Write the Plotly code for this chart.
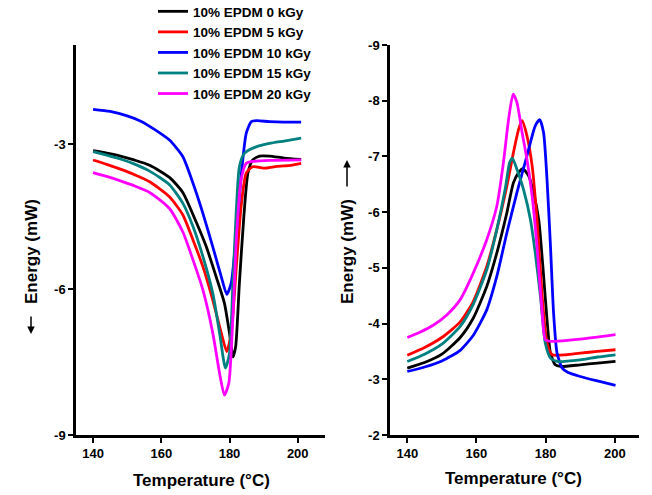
import plotly.graph_objects as go

FONT = "Liberation Sans, Arial, sans-serif"

names = ["10% EPDM 0 kGy", "10% EPDM 5 kGy", "10% EPDM 10 kGy",
         "10% EPDM 15 kGy", "10% EPDM 20 kGy"]
colors = ["#000000", "#FF0000", "#0000FF", "#008080", "#FF00FF"]

# ---- Left panel (melting) ----
t_l_0 = [140, 144, 148, 152, 156.6, 162.4, 166.3, 170.3, 173.2, 176.1, 178.5, 180, 181, 181.8,
         182.9, 184.2, 185.4, 186.8, 188.8, 191.7, 196, 201]
e_l_0 = [-3.14, -3.19, -3.25, -3.33, -3.44, -3.69, -4.0, -4.62, -5.12, -5.74, -6.28, -6.9, -7.39,
         -7.18, -5.87, -4.5, -3.6, -3.33, -3.25, -3.25, -3.29, -3.32]

t_l_5 = [140, 144, 148, 152, 156.6, 162.4, 166.3, 169.3, 172.2, 175.1, 177.6, 179.2, 180.5, 182,
         183.4, 184.9, 186.8, 190, 194, 198, 201]
e_l_5 = [-3.33, -3.42, -3.52, -3.63, -3.78, -4.09, -4.46, -4.98, -5.53, -6.22, -6.9, -7.28, -6.9,
         -5.53, -4.29, -3.6, -3.47, -3.5, -3.46, -3.44, -3.4]

t_l_10 = [140, 145, 150, 154, 158, 162.4, 166.3, 169.3, 172.2, 175.1, 177.6, 179.2, 180.5, 182,
          183.4, 184.9, 186.4, 188, 191.7, 196, 201]
e_l_10 = [-2.285, -2.33, -2.42, -2.53, -2.7, -2.92, -3.26, -3.81, -4.43, -5.12, -5.74, -6.1, -5.87,
          -4.84, -3.67, -2.78, -2.54, -2.52, -2.54, -2.55, -2.55]

t_l_15 = [140, 144, 148, 152, 156.6, 162.4, 166.3, 169.3, 172.2, 175.1, 177.1, 178.8, 180, 181,
          182, 182.9, 184.4, 187.8, 191.7, 196, 201]
e_l_15 = [-3.16, -3.23, -3.31, -3.41, -3.56, -3.84, -4.22, -4.7, -5.32, -6.08, -6.9, -7.62, -7.32,
          -5.87, -4.36, -3.47, -3.19, -3.06, -2.99, -2.94, -2.88]

t_l_20 = [140, 144, 148, 152, 156.6, 162.4, 166.3, 169.3, 172.2, 175.1, 177.1, 178.5, 179.8, 181,
          182.1, 183.4, 184.9, 186.8, 192, 201]
e_l_20 = [-3.59, -3.67, -3.76, -3.86, -4.0, -4.33, -4.81, -5.39, -6.01, -6.9, -7.73, -8.18, -7.93,
          -6.56, -4.84, -3.74, -3.4, -3.36, -3.34, -3.33]

# ---- Right panel (crystallization) ----
t_r_0 = [140, 145, 150, 155.3, 159.1, 163, 165.9, 168.8, 170.7, 172.2, 173.4, 175.1, 176.5, 178,
         179.2, 180.4, 181.4, 182.8, 184.3, 190, 195, 200.2]
e_r_0 = [-3.2, -3.3, -3.45, -3.75, -4.1, -4.67, -5.27, -5.99, -6.53, -6.71, -6.78, -6.65, -6.35,
         -5.87, -5.03, -4.07, -3.47, -3.26, -3.23, -3.26, -3.29, -3.32]

t_r_5 = [140, 145, 150, 155.3, 159.1, 163, 165.9, 168.8, 170.7, 172.2, 173.2, 174.6, 176.1, 177.5,
         179, 180.4, 181.9, 186, 190, 195, 200.2]
e_r_5 = [-3.43, -3.57, -3.75, -4.03, -4.4, -5.03, -5.69, -6.47, -7.07, -7.49, -7.64, -7.37, -6.83,
         -5.87, -4.49, -3.65, -3.44, -3.44, -3.47, -3.5, -3.53]

t_r_10 = [140, 145, 150, 155.3, 159.1, 163, 165.9, 168.8, 171.7, 174.6, 177, 178.3, 179.4, 180.4,
          181.4, 182.3, 183.3, 184.8, 186.5, 190, 195, 200.2]
e_r_10 = [-3.14, -3.22, -3.33, -3.52, -3.79, -4.25, -4.85, -5.63, -6.35, -7.01, -7.55, -7.66, -7.43,
          -6.59, -5.39, -4.19, -3.47, -3.2, -3.12, -3.05, -2.97, -2.89]

t_r_15 = [140, 145, 150, 155.3, 159.1, 163, 165.9, 168.3, 169.6, 170.4, 171.7, 173.6, 175.6, 177,
          178.5, 179.9, 181.4, 183.3, 190, 195, 200.2]
e_r_15 = [-3.32, -3.45, -3.63, -3.95, -4.35, -4.97, -5.69, -6.41, -6.89, -6.97, -6.77, -6.41, -5.87,
          -5.27, -4.49, -3.65, -3.38, -3.32, -3.35, -3.4, -3.44]

t_r_20 = [140, 143.5, 147.5, 151.5, 155.3, 159.1, 163, 165.9, 167.8, 169.3, 170.6, 171.7, 173.2,
          174.6, 176.1, 177.5, 179, 179.9, 181.4, 190, 200.2]
e_r_20 = [-3.75, -3.84, -3.97, -4.16, -4.43, -4.91, -5.51, -6.11, -6.89, -7.67, -8.12, -7.97, -7.43,
          -6.95, -6.29, -5.39, -4.19, -3.71, -3.68, -3.72, -3.8]

x_ticks = [140, 160, 180, 200]
y_ticks_left = [-9, -6, -3]
y_ticks_right = [-9, -8, -7, -6, -5, -4, -3, -2]

left = [(t_l_0, e_l_0), (t_l_5, e_l_5), (t_l_10, e_l_10), (t_l_15, e_l_15), (t_l_20, e_l_20)]
right = [(t_r_0, e_r_0), (t_r_5, e_r_5), (t_r_10, e_r_10), (t_r_15, e_r_15), (t_r_20, e_r_20)]

fig = go.Figure()
for (t, e), name, col in zip(left, names, colors):
    fig.add_trace(go.Scatter(x=t, y=e, mode="lines", name=name,
                             line=dict(color=col, width=2.8, shape="spline", smoothing=0.6),
                             xaxis="x", yaxis="y", showlegend=True))
for (t, e), name, col in zip(right, names, colors):
    fig.add_trace(go.Scatter(x=t, y=e, mode="lines", name=name,
                             line=dict(color=col, width=2.8, shape="spline", smoothing=0.6),
                             xaxis="x2", yaxis="y2", showlegend=False))

tickfont = dict(family=FONT, size=13, color="black", weight="bold")
axis_common = dict(showline=True, linewidth=2.5, linecolor="black", ticks="outside",
                   ticklen=5, tickwidth=2, tickcolor="black", showgrid=False,
                   zeroline=False, tickfont=tickfont)

fig.update_layout(
    width=652, height=495, autosize=False,
    margin=dict(l=76, r=13, t=45, b=60, autoexpand=False),
    paper_bgcolor="white", plot_bgcolor="white",
    font=dict(family=FONT, color="black"),
    xaxis=dict(domain=[0, 0.4423], range=[135, 208], tickvals=x_ticks,
               ticktext=[str(v) for v in x_ticks], anchor="y", **axis_common),
    yaxis=dict(domain=[0, 1], range=[-9, -0.96], tickvals=y_ticks_left,
               ticktext=[str(v) for v in y_ticks_left], anchor="x", **axis_common),
    xaxis2=dict(domain=[0.5577, 1], range=[135, 207], tickvals=x_ticks,
                ticktext=[str(v) for v in x_ticks], anchor="y2", **axis_common),
    yaxis2=dict(domain=[0, 1], range=[-2, -9], tickvals=y_ticks_right,
                ticktext=[str(v) for v in y_ticks_right], anchor="x2", **axis_common),
    legend=dict(x=0.1368, y=1.1255, xanchor="left", yanchor="top",
                bgcolor="rgba(0,0,0,0)", borderwidth=0, tracegroupgap=0,
                font=dict(family=FONT, size=13.5, color="black", weight="bold")),
    showlegend=True,
)

PW, PH = 563, 390
def px(x):
    return (x - 76) / PW
def py(y):
    return (435 - y) / PH

title_font = dict(family=FONT, size=17, color="black", weight="bold")
fig.add_annotation(text="Temperature (°C)", xref="paper", yref="paper",
                   x=px(201), y=py(480), showarrow=False,
                   xanchor="center", yanchor="middle", font=title_font)
fig.add_annotation(text="Temperature (°C)", xref="paper", yref="paper",
                   x=px(513), y=py(478), showarrow=False,
                   xanchor="center", yanchor="middle", font=title_font)
fig.add_annotation(text="Energy (mW)", xref="paper", yref="paper",
                   x=px(31), y=py(252), showarrow=False, textangle=-90,
                   xanchor="center", yanchor="middle", font=title_font)
fig.add_annotation(text="Energy (mW)", xref="paper", yref="paper",
                   x=px(347), y=py(252), showarrow=False, textangle=-90,
                   xanchor="center", yanchor="middle", font=title_font)
# direction arrows beside the y titles
fig.add_annotation(text="", xref="paper", yref="paper", x=px(31), y=py(334),
                   ax=0, ay=-19, showarrow=True, arrowhead=2, arrowsize=1,
                   arrowwidth=1.5, arrowcolor="black", standoff=0, startstandoff=0)
fig.add_annotation(text="", xref="paper", yref="paper", x=px(347), y=py(160),
                   ax=0, ay=28, showarrow=True, arrowhead=2, arrowsize=1,
                   arrowwidth=1.5, arrowcolor="black", standoff=0, startstandoff=0)

fig.write_html("out.html", config={"displayModeBar": False},
               post_script="document.body.style.margin='0';")
